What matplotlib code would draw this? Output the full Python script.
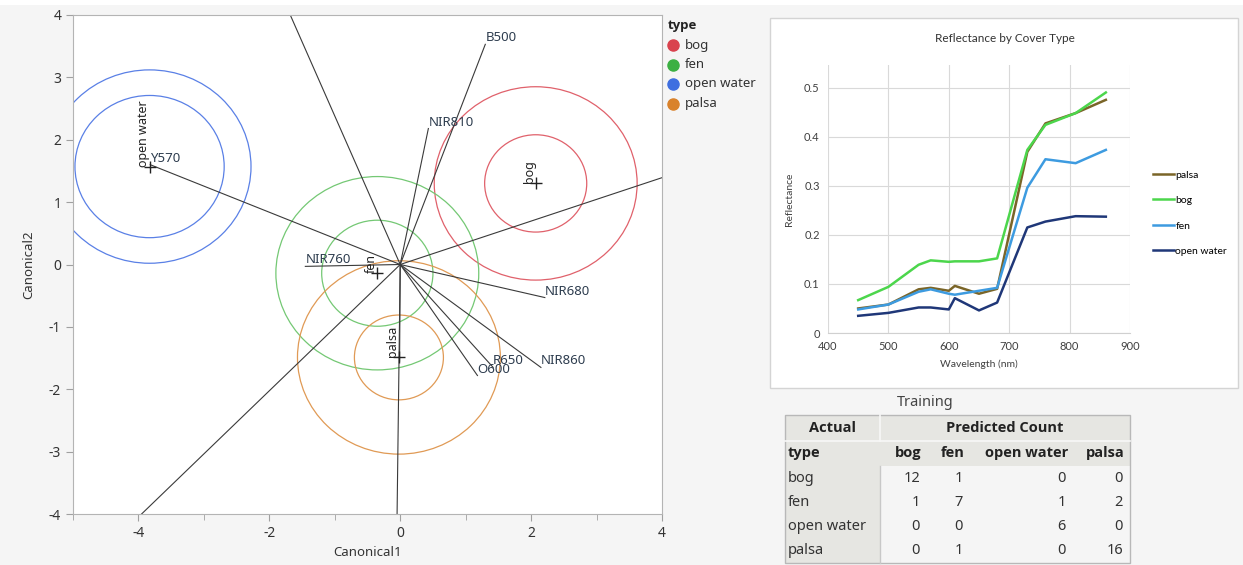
import numpy as np
import matplotlib.pyplot as plt
from matplotlib.patches import Circle, Rectangle

W, H = 1243, 565

plt.rcParams['font.family'] = ['Noto Sans', 'DejaVu Sans']
plt.rcParams['axes.unicode_minus'] = False
BOLD = ['Open Sans', 'Lato', 'DejaVu Sans']

# 判别分析：各组均值 (Canonical1, Canonical2) 与置信圆半径
groups = ['bog', 'fen', 'open water', 'palsa']
group_colors = ['#d9434e', '#3cb043', '#3f6fe0', '#d9822b']
ring_colors = ['#e0616b', '#74c874', '#5a80e6', '#e09a55']
mean_c1 = [2.07, -0.35, -3.83, -0.02]
mean_c2 = [1.30, -0.14, 1.57, -1.49]
r_inner = [0.78, 0.85, 1.14, 0.68]
r_outer = [1.55, 1.55, 1.55, 1.55]

# 双标图射线（端点）
ray_names = ['B500', 'Y570', 'O600', 'R650', 'NIR680', 'NIR760', 'NIR810', 'NIR860', '', '', '', '', '']
ray_c1 = [1.30, -3.82, 1.18, 1.42, 2.21, -1.45, 0.43, 2.15, -2.10, 5.00, -4.94, -0.06, -0.01]
ray_c2 = [3.53, 1.60, -1.78, -1.65, -0.53, -0.03, 2.18, -1.65, 5.00, 1.74, -5.00, -5.00, -1.55]

# 光谱反射率
wavelength = [450, 500, 550, 570, 600, 610, 650, 680, 730, 760, 810, 860]
palsa = [0.050, 0.058, 0.089, 0.092, 0.086, 0.096, 0.080, 0.090, 0.369, 0.427, 0.448, 0.475]
bog = [0.067, 0.094, 0.139, 0.148, 0.145, 0.146, 0.146, 0.152, 0.373, 0.424, 0.448, 0.490]
fen = [0.048, 0.058, 0.084, 0.089, 0.080, 0.078, 0.086, 0.092, 0.296, 0.354, 0.346, 0.373]
open_water = [0.035, 0.041, 0.052, 0.052, 0.048, 0.071, 0.046, 0.062, 0.215, 0.227, 0.238, 0.237]
spec_names = ['palsa', 'bog', 'fen', 'open water']
spec_colors = ['#7a6528', '#4cd64c', '#3d9be0', '#1f3778']

# 混淆矩阵（训练集）
pred_cols = ['bog', 'fen', 'open water', 'palsa']
actual_rows = ['bog', 'fen', 'open water', 'palsa']
counts = [[12, 1, 0, 0],
          [1, 7, 1, 2],
          [0, 0, 6, 0],
          [0, 1, 0, 16]]

fig = plt.figure(figsize=(W / 100, H / 100), dpi=100, facecolor='#f5f5f5')

# 背景层（像素坐标）
bg = fig.add_axes([0, 0, 1, 1], zorder=-5)
bg.set_xlim(0, W)
bg.set_ylim(H, 0)
bg.axis('off')
bg.add_patch(Rectangle((0, 0), W, 5, fc='white', ec='none'))
bg.add_patch(Rectangle((770, 18), 468, 370, fc='white', ec='#d4d4d4', lw=1))

# ---------- 左图：典型变量图 ----------
ax = fig.add_axes([73 / W, 1 - 514 / H, 589 / W, 499 / H])
ax.set_facecolor('white')
ax.set_xlim(-5, 4)
ax.set_ylim(-4, 4)

for i, g in enumerate(groups):
    for r in (r_inner[i], r_outer[i]):
        ax.add_patch(Circle((mean_c1[i], mean_c2[i]), r, fill=False, ec=ring_colors[i], lw=0.9))

for name, x, y in zip(ray_names, ray_c1, ray_c2):
    ax.plot([0, x], [0, y], color='#3a3a3a', lw=0.8)
    if name:
        ax.text(x, y, name, ha='left', va='bottom', fontsize=9.5, color='#2e3d4f')

for i, g in enumerate(groups):
    ax.plot(mean_c1[i], mean_c2[i], marker='+', color='#222222', ms=9, mew=1)
    ax.text(mean_c1[i], mean_c2[i], g, rotation=90, ha='right', va='bottom',
            fontsize=9, color='#222222')

ax.set_xticks([-4, -2, 0, 2, 4])
ax.set_xticks([-5, -3, -1, 1, 3], minor=True)
ax.set_yticks(range(-4, 5))
ax.tick_params(which='both', direction='out', colors='#a0a0a0', labelcolor='#333333',
               labelsize=10)
ax.tick_params(which='major', length=5)
ax.tick_params(which='minor', length=4)
for s in ax.spines.values():
    s.set_color('#b4b4b4')
ax.set_xlabel('Canonical1', fontsize=9.5, color='#333333', labelpad=4)
ax.set_ylabel('Canonical2', fontsize=9.5, color='#333333', labelpad=10)

# 图例
bg.text(668, 25, 'type', fontsize=9.5, fontweight='bold', family=BOLD, color='#222222',
        va='center')
for i, g in enumerate(groups):
    yy = 45 + i * 19.5
    bg.plot(673, yy, 'o', color=group_colors[i], ms=8)
    bg.text(685, yy, g, fontsize=9.5, color='#333333', va='center')

# ---------- 右上：反射率曲线 ----------
ax2 = fig.add_axes([828 / W, 1 - 333 / H, 302 / W, 268 / H])
ax2.set_facecolor('white')
series = [palsa, bog, fen, open_water]
for name, vals, c in zip(spec_names, series, spec_colors):
    ax2.plot(wavelength, vals, color=c, lw=1.8, label=name)
ax2.set_xlim(400, 900)
ax2.set_ylim(0, 0.546)
ax2.set_xticks(range(400, 901, 100))
ax2.set_yticks([0, 0.1, 0.2, 0.3, 0.4, 0.5])
ax2.set_yticklabels(['0', '0.1', '0.2', '0.3', '0.4', '0.5'])
ax2.grid(color='#d9d9d9', lw=0.8)
ax2.set_axisbelow(True)
for k in ('top', 'right', 'left'):
    ax2.spines[k].set_visible(False)
ax2.spines['bottom'].set_color('#d0d0d0')
ax2.tick_params(length=0, labelsize=8, labelcolor='#404040', pad=6)
for lab in ax2.get_xticklabels() + ax2.get_yticklabels():
    lab.set_family('Lato')
ax2.set_xlabel('Wavelength (nm)', fontsize=7.5, family='Lato', color='#404040', labelpad=5)
ax2.set_ylabel('Reflectance', fontsize=7.5, family='Lato', color='#404040', labelpad=7)
bg.text(1005, 38, 'Reflectance by Cover Type', fontsize=8.5, family='Lato',
        color='#333333', ha='center', va='center')
ax2.legend(loc='upper left', bbox_to_anchor=(1144 / W, 1 - 161 / H),
           bbox_transform=fig.transFigure, frameon=False, handlelength=2.0,
           handletextpad=0.1, labelspacing=1.55, prop={'family': 'Lato', 'size': 7.5})

# ---------- 右下：混淆矩阵 ----------
bg.text(925, 403, 'Training', fontsize=10.5, color='#444444', ha='center', va='center')
tx0, tx1, tcol = 785, 1130, 880
row_top = [415, 441, 466, 490, 515, 539]
row_bot = 563
hdr = '#e6e6e2'
bg.add_patch(Rectangle((tx0, row_top[0]), tx1 - tx0, row_top[2] - row_top[0], fc=hdr, ec='none'))
bg.add_patch(Rectangle((tx0, row_top[2]), tcol - tx0, row_bot - row_top[2], fc=hdr, ec='none'))
bg.plot([tx0, tx1], [row_top[1], row_top[1]], color='#f7f7f7', lw=1.2)
bg.plot([tcol, tcol], [row_top[0], row_top[1]], color='#f7f7f7', lw=1.2)
bg.plot([tcol, tcol], [row_top[2], row_bot], color='#c8c8c8', lw=1)
bg.add_patch(Rectangle((tx0, row_top[0]), tx1 - tx0, row_bot - row_top[0], fc='none',
                       ec='#b8b8b8', lw=1))

bg.text((tx0 + tcol) / 2, 428, 'Actual', fontsize=10.5, fontweight='bold', family=BOLD,
        ha='center', va='center', color='#222222')
bg.text((tcol + tx1) / 2, 428, 'Predicted Count', fontsize=10.5, fontweight='bold',
        family=BOLD, ha='center', va='center', color='#222222')
bg.text(788, 453, 'type', fontsize=10.5, fontweight='bold', family=BOLD, ha='left',
        va='center', color='#222222')
col_right = [922, 965, 1068, 1125]
for j, c in enumerate(pred_cols):
    bg.text(col_right[j], 453, c, fontsize=10.5, fontweight='bold', family=BOLD, ha='right',
            va='center', color='#222222')
row_y = [478, 502, 527, 551]
for i, rname in enumerate(actual_rows):
    bg.text(788, row_y[i], rname, fontsize=10.5, ha='left', va='center', color='#333333')
    for j in range(len(pred_cols)):
        bg.text(col_right[j] - 2, row_y[i], str(counts[i][j]), fontsize=10.5, ha='right',
                va='center', color='#333333')

fig.savefig('out.png', dpi=100, facecolor=fig.get_facecolor())
